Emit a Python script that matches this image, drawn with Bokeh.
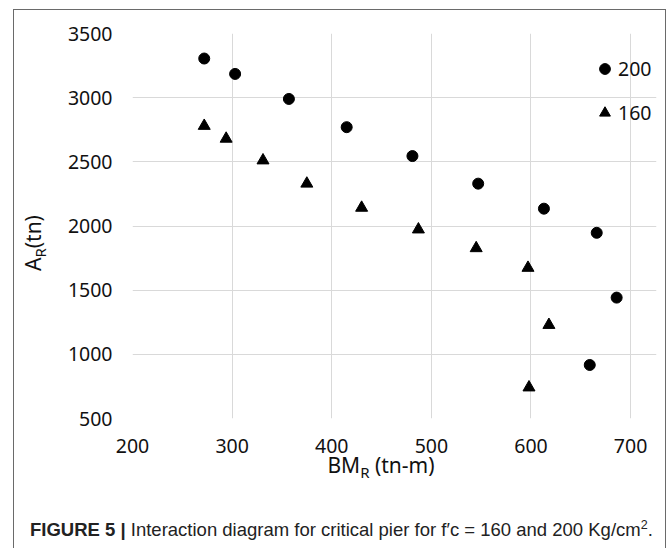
from bokeh.plotting import figure
from bokeh.models import Range1d, Legend, LegendItem, FixedTicker, Div
from bokeh.layouts import column, row
from bokeh.embed import file_html
from bokeh.resources import INLINE

# ---- data ----
bm_200 = [272, 303, 357, 415, 481, 547, 613, 666, 686, 659]
ar_200 = [3305, 3185, 2990, 2770, 2545, 2330, 2135, 1947, 1442, 917]
bm_160 = [272, 294, 331, 375, 430, 487, 545, 597, 618, 598]
ar_160 = [2780, 2680, 2511, 2330, 2142, 1973, 1827, 1674, 1229, 742]
series_names = ["200", "160"]
x_ticks = [200, 300, 400, 500, 600, 700]
y_ticks = [500, 1000, 1500, 2000, 2500, 3000, 3500]
x_title = ("BM", "R", " (tn-m)")
y_title = ("A", "R", "(tn)")
caption_bold = "FIGURE 5 |"
caption_text = "Interaction diagram for critical pier for f\u2032c = 160 and 200 Kg/cm"

# ---- layout constants (page pixels) ----
OX, OY = 14, 10             # content origin inside the outer box
YDIV_W = 40
FIG_W = 665 - OX - YDIV_W   # figure spans x 54..665
FL, FR = 78, 9              # frame x 132..656
FT, FH, FB = 23, 385, 44    # frame y 33..418
FIG_H = FT + FH + FB
XDIV_H = 28
CAP_H = 58

p = figure(width=FIG_W, height=FIG_H, output_backend="svg", toolbar_location=None,
           x_range=Range1d(200, 726), y_range=Range1d(500, 3500),
           min_border_left=FL, min_border_right=FR,
           min_border_top=FT, min_border_bottom=FB, margin=0)
p.background_fill_color = "white"
p.border_fill_color = "white"
p.outline_line_color = None

for ax in (p.xaxis[0], p.yaxis[0]):
    ax.axis_line_color = None
    ax.major_tick_line_color = None
    ax.minor_tick_line_color = None
    ax.major_tick_out = 0
    ax.major_tick_in = 0
    ax.major_label_text_font = "Noto Sans"
    ax.major_label_text_font_size = "19.5px"
    ax.major_label_text_color = "#111111"
    ax.major_label_standoff = 20
p.xaxis[0].ticker = FixedTicker(ticks=x_ticks)
p.yaxis[0].ticker = FixedTicker(ticks=y_ticks)

p.xgrid[0].ticker = FixedTicker(ticks=x_ticks)
p.ygrid[0].ticker = FixedTicker(ticks=y_ticks)
p.xgrid[0].bounds = (500, 3500)
p.ygrid[0].bounds = (200, 700)
p.xgrid.grid_line_color = "#d9d9d9"
p.ygrid.grid_line_color = "#d9d9d9"

r200 = p.scatter(bm_200, ar_200, marker="circle", size=11, color="black")
r160 = p.scatter(bm_160, ar_160, marker="triangle", size=12, color="black")

leg = Legend(items=[LegendItem(label=series_names[0], renderers=[r200]),
                    LegendItem(label=series_names[1], renderers=[r160])],
             location=(459, 292), border_line_color=None,
             background_fill_alpha=0, padding=0, margin=0, spacing=17,
             glyph_width=27, glyph_height=27, label_standoff=0,
             label_text_font="Noto Sans", label_text_font_size="19.5px",
             label_text_color="#111111")
p.add_layout(leg, "center")

# ---- y axis title (rotated, with subscript) ----
fs = 21
sfs = 15
yl_left = 42 - OX - 0.888 * fs
yl_top = 271 - OY
ydiv = Div(width=YDIV_W, height=FIG_H, margin=0, text=(
    f'<div style="position:relative;width:{YDIV_W}px;height:{FIG_H}px;">'
    f'<div style="position:absolute;left:{yl_left:.1f}px;top:{yl_top}px;'
    f'transform-origin:0 0;transform:rotate(-90deg);white-space:nowrap;'
    f'font-family:\'Noto Sans\';font-size:{fs}px;line-height:{fs}px;color:#111;">'
    f'{y_title[0]}<span style="font-size:{sfs}px;position:relative;top:5px;">{y_title[1]}</span>{y_title[2]}'
    '</div></div>'))

# ---- x axis title ----
xl_top = 474 - (OY + FIG_H) - 0.888 * fs
xdiv = Div(width=665 - OX, height=XDIV_H, margin=0, text=(
    f'<div style="position:relative;width:{665 - OX}px;height:{XDIV_H}px;">'
    f'<div style="position:absolute;left:{132 - OX}px;width:498px;top:{xl_top:.1f}px;'
    f'text-align:center;white-space:nowrap;font-family:\'Noto Sans\';'
    f'font-size:{fs}px;line-height:{fs}px;color:#111;">'
    f'{x_title[0]}<span style="font-size:{sfs}px;position:relative;top:5px;">{x_title[1]}</span>{x_title[2]}'
    '</div></div>'))

# ---- caption ----
cfs = 18.5
cap_top = 537 - (OY + FIG_H + XDIV_H) - 0.8465 * cfs
capdiv = Div(width=665 - OX, height=CAP_H, margin=0, text=(
    f'<div style="position:relative;width:{665 - OX}px;height:{CAP_H}px;">'
    f'<div style="position:absolute;left:{30 - OX}px;top:{cap_top:.1f}px;white-space:nowrap;'
    f'font-family:\'Liberation Sans\';font-size:{cfs}px;line-height:{cfs}px;color:#222;">'
    f'<b>{caption_bold}</b> {caption_text}'
    '<span style="font-size:12.5px;position:relative;top:-7px;">2</span>.'
    '</div></div>'))

layout = column(row(ydiv, p, margin=0), xdiv, capdiv, margin=(9, 0, 0, 13),
                styles={"border-left": "1px solid #6a6a6a",
                        "border-top": "1px solid #6a6a6a",
                        "border-right": "1px solid #6a6a6a"})

open("out.html", "w").write(file_html(layout, INLINE))
